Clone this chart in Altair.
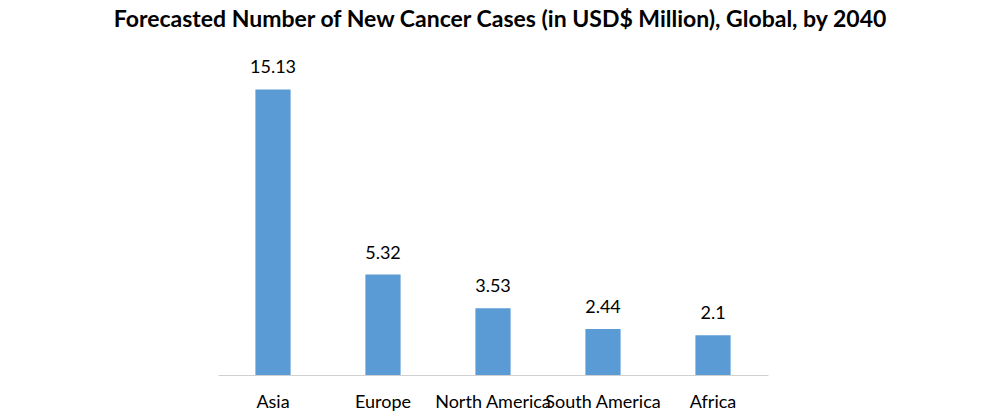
import altair as alt
import pandas as pd

regions = ["Asia", "Europe", "North America", "South America", "Africa"]
cases = [15.13, 5.32, 3.53, 2.44, 2.1]
labels = ["15.13", "5.32", "3.53", "2.44", "2.1"]

df = pd.DataFrame({"region": regions, "cases": cases, "label": labels})

FONT = "Lato"

base = alt.Chart(df).encode(
    x=alt.X("region:N", sort=regions, title=None,
            scale=alt.Scale(paddingInner=0.68, paddingOuter=0.34),
            axis=alt.Axis(labelAngle=0, ticks=False, domainColor="#d0d0d0",
                          labelFont=FONT, labelFontSize=18, labelColor="#000000",
                          labelPadding=18, labelOverlap=False, labelLimit=0)),
    y=alt.Y("cases:Q", title=None, scale=alt.Scale(domain=[0, 16]), axis=None),
)

bars = base.mark_bar(color="#5B9BD5")
text = base.mark_text(dy=-21, font=FONT, fontSize=18, color="#000000").encode(text="label:N")

chart = (bars + text).properties(
    width=550, height=302,
    title=alt.TitleParams("Forecasted Number of New Cancer Cases (in USD$ Million), Global, by 2040",
                          font=FONT, fontSize=23, fontWeight="bold", color="#000000",
                          anchor="middle", offset=27, dx=7, limit=2000),
    autosize=alt.AutoSizeParams(type="none"),
    padding={"left": 210, "top": 65, "right": 220, "bottom": 40},
).configure_view(stroke=None)

chart.save("out.html", embed_options={"renderer": "svg", "actions": False})
